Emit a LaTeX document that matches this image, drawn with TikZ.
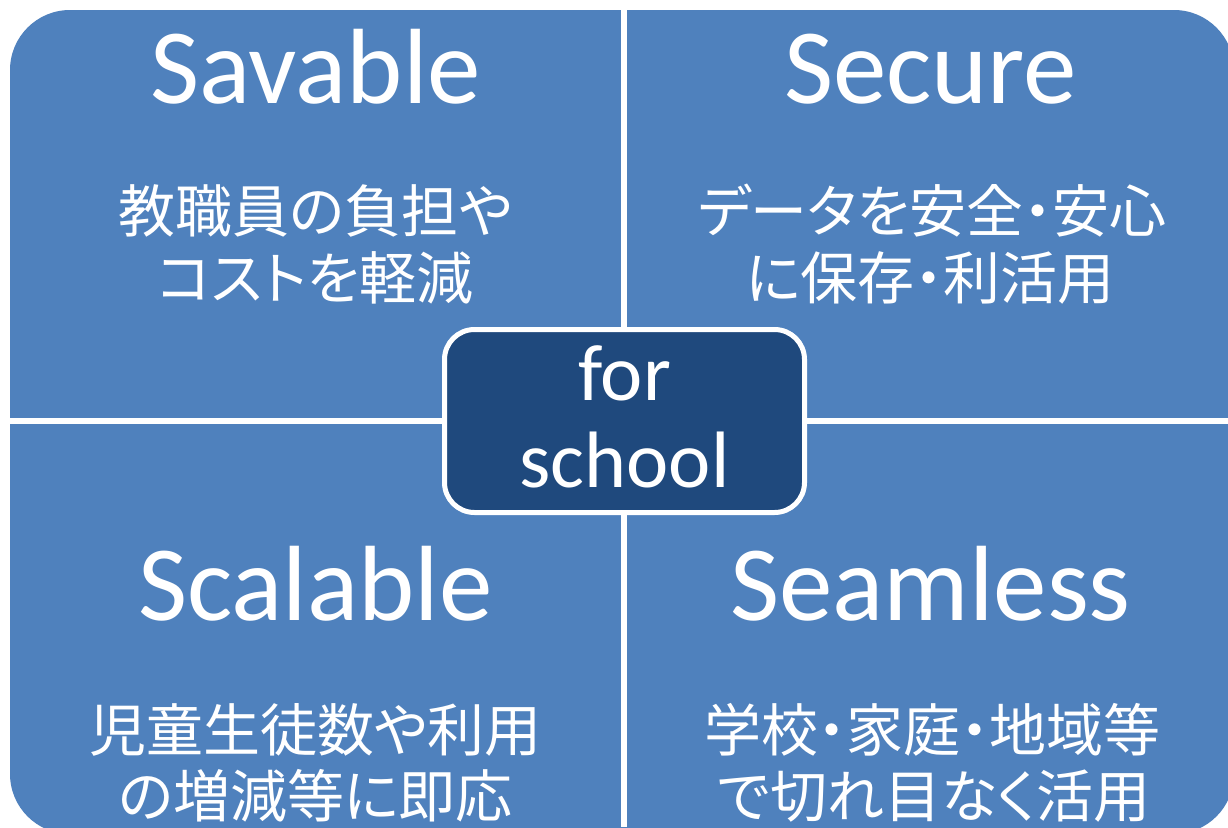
\documentclass[tikz,border=0pt]{standalone}
\usepackage{fontspec}
\setmainfont{Carlito}
\newfontfamily\jpfont[RawFeature=+palt]{Noto Sans CJK JP}
\definecolor{quadblue}{HTML}{4F81BD}
\definecolor{coreblue}{HTML}{1F497D}
\begin{document}
\begin{tikzpicture}[x=1pt,y=-1pt,
  titletext/.style={text=white,font=\fontsize{107}{128}\selectfont,anchor=base,inner sep=0pt},
  jptext/.style={text=white,font=\jpfont\fontsize{57}{67}\selectfont,anchor=base,inner sep=0pt},
  coretext/.style={text=white,font=\fontsize{80}{96}\selectfont,anchor=base,inner sep=0pt},
  corebox/.style={draw=white,line width=5pt,fill=coreblue,rounded corners=30pt,
    minimum width=360pt,minimum height=183pt,inner sep=0pt}]
\useasboundingbox (0,0) rectangle (1228,827);
\fill[white] (0,0) rectangle (1228,827);
\begin{scope}
  \clip (0,0) rectangle (1228,827);
  \fill[quadblue,rounded corners=60pt] (10,10) rectangle (1234,834);
\end{scope}
% white gaps between the quadrants
\fill[white] (621,0) rectangle (627,827);
\fill[white] (0,418) rectangle (1228,424);
% center box
\node[corebox] (core) at (624.5,421) {};
\node[coretext] (for) at (624.5,400) {for};
\node[coretext] (school) at (624.5,487) {school};
% titles
\node[titletext] (savable) at (315.5,103) {Savable};
\node[titletext] (secure) at (930.5,103) {Secure};
\node[titletext] (scalable) at (315.5,620) {Scalable};
\node[titletext] (seamless) at (930.5,620) {Seamless};
% Japanese descriptions
\node[jptext] (tl1) at (315.5,232) {教職員の負担や};
\node[jptext] (tl2) at (315.5,299) {コストを軽減};
\node[jptext] (tr1) at (932,232) {データを安全・安心};
\node[jptext] (tr2) at (930,299) {に保存・利活用};
\node[jptext] (bl1) at (315.5,751) {児童生徒数や利用};
\node[jptext] (bl2) at (315.5,817) {の増減等に即応};
\node[jptext] (br1) at (932,751) {学校・家庭・地域等};
\node[jptext] (br2) at (934,817) {で切れ目なく活用};
\end{tikzpicture}
\end{document}
